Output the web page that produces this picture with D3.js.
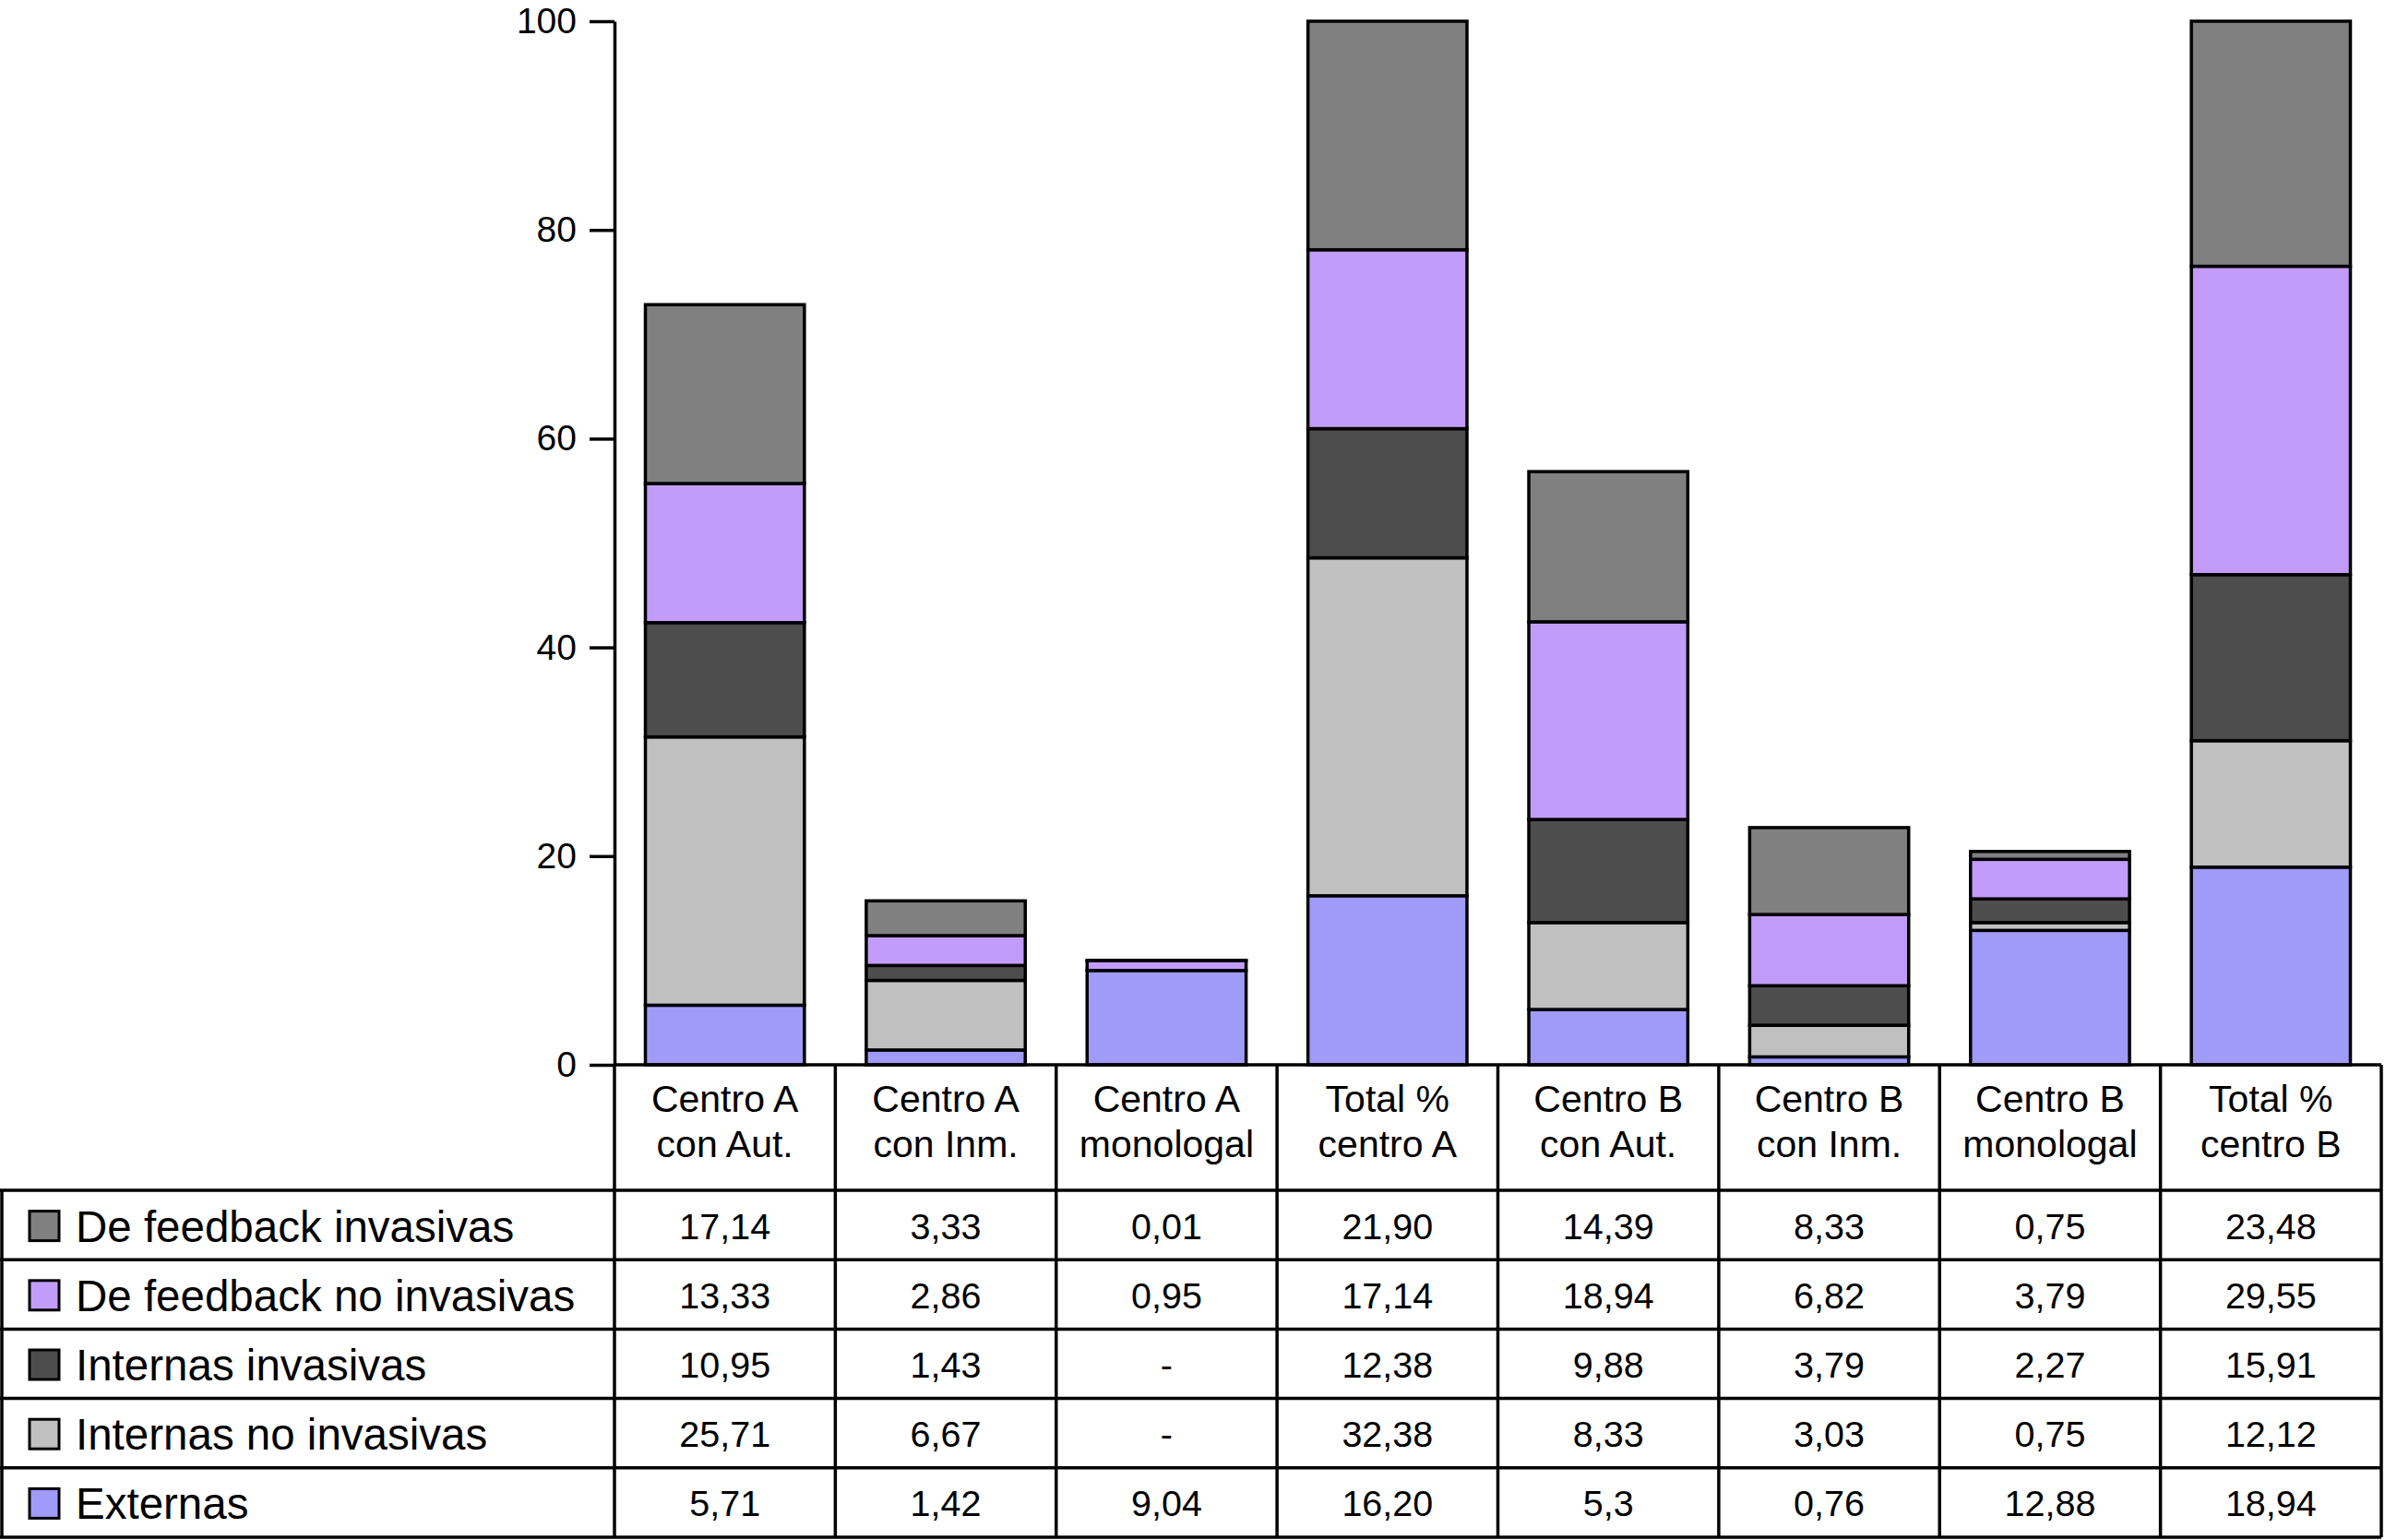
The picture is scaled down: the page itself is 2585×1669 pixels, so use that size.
<!DOCTYPE html>
<html>
<head>
<meta charset="utf-8">
<script src="https://cdn.jsdelivr.net/npm/d3@7"></script>
<style>
  body { margin: 0; background: #fff; }
  svg { display: block; font-family: "Liberation Sans", Arial, Helvetica, sans-serif; }
</style>
</head>
<body>
<svg id="chart" width="2585" height="1669"></svg>
<script>
"use strict";

// columns of the chart / table
const categories = ["cAAut", "cAInm", "cAMono", "totA", "cBAut", "cBInm", "cBMono", "totB"];
const headerLines = [
    ["Centro A", "con Aut."],
    ["Centro A", "con Inm."],
    ["Centro A", "monologal"],
    ["Total %", "centro A"],
    ["Centro B", "con Aut."],
    ["Centro B", "con Inm."],
    ["Centro B", "monologal"],
    ["Total %", "centro B"]
];

// series, in table order (top row = top of the stack)
const seriesNames = [
    "De feedback invasivas",
    "De feedback no invasivas",
    "Internas invasivas",
    "Internas no invasivas",
    "Externas"
];
const seriesColors = ["#808080", "#c39cf9", "#4d4d4d", "#c0c0c0", "#a09bf8"];

// table cells as printed ("-" = no value)
const deFeedbackInvasivas   = ["17,14", "3,33", "0,01", "21,90", "14,39", "8,33", "0,75", "23,48"];
const deFeedbackNoInvasivas = ["13,33", "2,86", "0,95", "17,14", "18,94", "6,82", "3,79", "29,55"];
const internasInvasivas     = ["10,95", "1,43", "-", "12,38", "9,88", "3,79", "2,27", "15,91"];
const internasNoInvasivas   = ["25,71", "6,67", "-", "32,38", "8,33", "3,03", "0,75", "12,12"];
const externas              = ["5,71", "1,42", "9,04", "16,20", "5,3", "0,76", "12,88", "18,94"];

const yTicks = [0, 20, 40, 60, 80, 100];

const cells = [deFeedbackInvasivas, deFeedbackNoInvasivas, internasInvasivas, internasNoInvasivas, externas];
const toNum = s => s === "-" ? 0 : +s.replace(",", ".");

// rows for d3.stack
const rows = categories.map((c, i) => {
    let r = {cat: c};
    seriesNames.forEach((s, k) => { r[s] = toNum(cells[k][i]); });
    return r;
});

const svg = d3.select("#chart");
const lw = 3.5;

const axisX = 666, tableRight = 2581;
const plotTop = 23, plotBottom = 1154;
const headerBottom = 1290, tableBottom = 1666;

let x = d3.scaleBand()
    .domain(categories)
    .range([axisX, tableRight])
    .paddingInner(0.28)
    .paddingOuter(0.14);

let col = d3.scaleBand().domain(categories).range([axisX, tableRight]);

let y = d3.scaleLinear().domain([0, 100]).range([plotBottom, plotTop]);

let rowScale = d3.scaleBand().domain(seriesNames).range([headerBottom, tableBottom]);

let color = d3.scaleOrdinal().domain(seriesNames).range(seriesColors);

// stack bottom-up: Externas first
const stackKeys = seriesNames.slice().reverse();
const stacked = d3.stack().keys(stackKeys)(rows);

svg.append("g")
  .selectAll("g")
  .data(stacked)
  .join("g")
    .attr("fill", d => color(d.key))
  .selectAll("rect")
  .data(d => d.filter(p => p[1] - p[0] > 0))
  .join("rect")
    .attr("x", d => x(d.data.cat))
    .attr("width", x.bandwidth())
    .attr("y", d => y(d[1]))
    .attr("height", d => y(d[0]) - y(d[1]))
    .attr("stroke", "#000")
    .attr("stroke-width", lw);

// y axis
const yAxis = svg.append("g")
    .attr("transform", "translate(" + axisX + ",0)")
    .call(d3.axisLeft(y).tickValues(yTicks).tickSize(27).tickSizeOuter(0).tickPadding(14));
yAxis.select(".domain").attr("stroke-width", lw);
yAxis.selectAll(".tick line").attr("stroke-width", lw);
yAxis.selectAll(".tick text")
    .attr("font-size", 39)
    .attr("font-family", "Liberation Sans, Arial, sans-serif")
    .attr("fill", "#000");

// table grid
const grid = svg.append("g").attr("stroke", "#000").attr("stroke-width", lw);

// baseline of the plot / top of header row
grid.append("line")
    .attr("x1", axisX).attr("x2", tableRight)
    .attr("y1", plotBottom).attr("y2", plotBottom);

// horizontal row lines
const rowEdges = seriesNames.map(s => rowScale(s)).concat([tableBottom]);
grid.selectAll("line.row")
  .data(rowEdges)
  .join("line")
    .attr("class", "row")
    .attr("x1", 0).attr("x2", tableRight)
    .attr("y1", d => d).attr("y2", d => d);

// vertical column lines
const colEdges = categories.map(c => col(c)).concat([tableRight]);
grid.selectAll("line.col")
  .data(colEdges)
  .join("line")
    .attr("class", "col")
    .attr("x1", d => d).attr("x2", d => d)
    .attr("y1", plotBottom).attr("y2", tableBottom);

// left border of the legend column
grid.append("line")
    .attr("x1", 2).attr("x2", 2)
    .attr("y1", headerBottom).attr("y2", tableBottom);

// header labels
svg.append("g")
  .selectAll("text")
  .data(categories)
  .join("text")
    .attr("x", d => col(d) + col.bandwidth() / 2)
    .attr("y", 1205)
    .attr("text-anchor", "middle")
    .attr("font-size", 41)
    .selectAll("tspan")
    .data((d, i) => headerLines[i])
    .join("tspan")
      .attr("x", function() { return this.parentNode.getAttribute("x"); })
      .attr("dy", (d, i) => i === 0 ? 0 : 49)
      .text(d => d);

// legend column
const legendRows = svg.append("g")
  .selectAll("g")
  .data(seriesNames)
  .join("g")
    .attr("transform", d => "translate(0," + (rowScale(d) + rowScale.bandwidth() / 2) + ")");

legendRows.append("rect")
    .attr("x", 32)
    .attr("y", -15)
    .attr("width", 32)
    .attr("height", 32)
    .attr("fill", d => color(d))
    .attr("stroke", "#000")
    .attr("stroke-width", 3);

legendRows.append("text")
    .attr("x", 82)
    .attr("y", 18)
    .attr("font-size", 47.5)
    .text(d => d);

// values in the table
seriesNames.forEach((s, k) => {
    svg.append("g")
      .selectAll("text")
      .data(cells[k])
      .join("text")
        .attr("x", (d, i) => col(categories[i]) + col.bandwidth() / 2)
        .attr("y", rowScale(s) + rowScale.bandwidth() / 2 + 15)
        .attr("text-anchor", "middle")
        .attr("font-size", 39.5)
        .text(d => d);
});
</script>
</body>
</html>
